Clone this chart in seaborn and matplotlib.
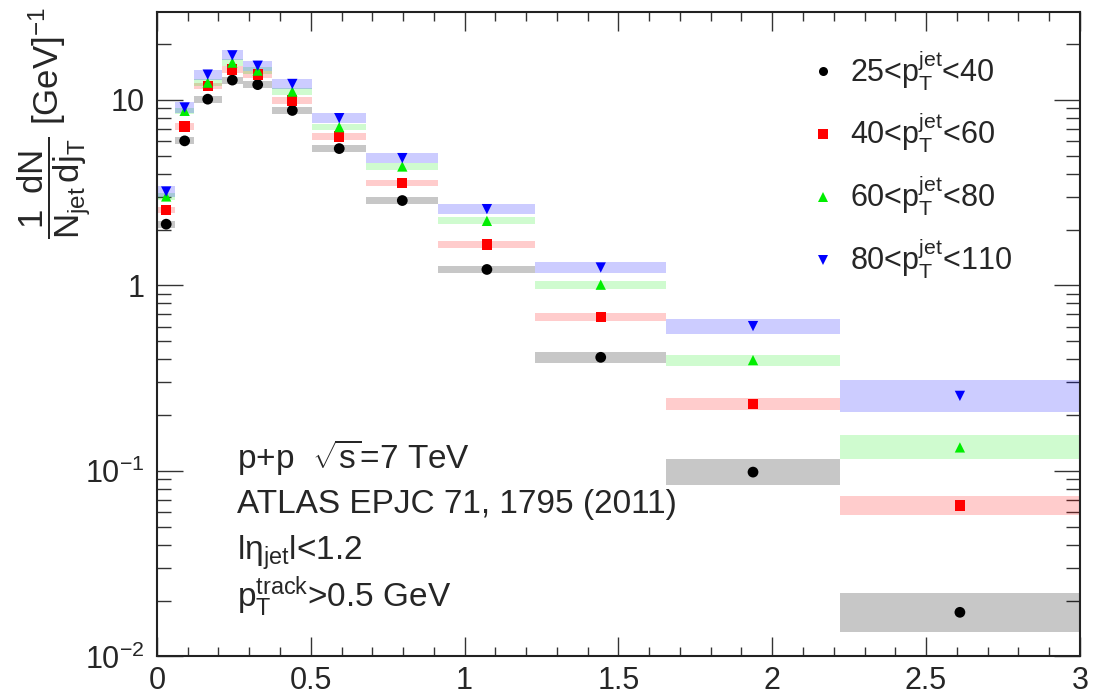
import numpy as np
import pandas as pd
import matplotlib
matplotlib.use("Agg")
import matplotlib.pyplot as plt
import seaborn as sns
from matplotlib.ticker import FixedLocator, MultipleLocator, LogLocator, NullFormatter, FixedFormatter
from matplotlib.lines import Line2D

# ---- data ----
bin_edges = [0.0, 0.06, 0.12, 0.21, 0.28, 0.375, 0.505, 0.68, 0.915, 1.23, 1.655, 2.22, 3.0]
series_labels = [r'25<p$_{\mathrm{T}}^{\mathrm{jet}}$<40', r'40<p$_{\mathrm{T}}^{\mathrm{jet}}$<60',
                 r'60<p$_{\mathrm{T}}^{\mathrm{jet}}$<80', r'80<p$_{\mathrm{T}}^{\mathrm{jet}}$<110']
vals_25_40 = [2.14, 6.02, 10.1, 12.8, 12.1, 8.78, 5.47, 2.87, 1.22, 0.410, 0.0986, 0.0173]
vals_40_60 = [2.55, 7.19, 11.9, 14.6, 13.7, 9.94, 6.35, 3.56, 1.66, 0.679, 0.230, 0.0651]
vals_60_80 = [3.02, 8.74, 12.4, 15.9, 14.4, 11.1, 7.14, 4.38, 2.23, 1.01, 0.396, 0.134]
vals_80_110 = [3.21, 9.11, 13.7, 17.4, 15.3, 12.2, 7.98, 4.86, 2.58, 1.25, 0.604, 0.254]
sys_25_40 = [0.045, 0.045, 0.045, 0.045, 0.045, 0.045, 0.045, 0.045, 0.045, 0.07, 0.175, 0.27]
sys_40_60 = [0.04, 0.04, 0.04, 0.04, 0.04, 0.04, 0.04, 0.04, 0.04, 0.05, 0.077, 0.13]
sys_60_80 = [0.04, 0.04, 0.04, 0.04, 0.04, 0.04, 0.04, 0.04, 0.045, 0.05, 0.07, 0.16]
sys_80_110 = [0.065, 0.065, 0.065, 0.065, 0.065, 0.065, 0.065, 0.065, 0.064, 0.077, 0.098, 0.22]

all_vals = [vals_25_40, vals_40_60, vals_60_80, vals_80_110]
all_sys = [sys_25_40, sys_40_60, sys_60_80, sys_80_110]
colors = ['#000000', '#ff0000', '#00ee00', '#0000ff']
band_alpha = [0.22, 0.2, 0.19, 0.2]
markers = ['o', 's', '^', 'v']
msizes = [60, 55, 55, 55]

edges = np.array(bin_edges)
centers = 0.5 * (edges[:-1] + edges[1:])

rows = []
for lab, v in zip(series_labels, all_vals):
    for c, y in zip(centers, v):
        rows.append({'jT': c, 'val': y, 'series': lab})
df = pd.DataFrame(rows)

sns.set_style("ticks")
plt.rcParams['font.family'] = ['Liberation Sans', 'DejaVu Sans']
plt.rcParams['mathtext.fontset'] = 'custom'
plt.rcParams['mathtext.rm'] = 'Liberation Sans'
plt.rcParams['mathtext.it'] = 'Liberation Sans:italic'
plt.rcParams['mathtext.bf'] = 'Liberation Sans:bold'

fig = plt.figure(figsize=(10.93, 6.98), dpi=100)
ax = fig.add_axes([0.1436, 0.0595, 0.988 - 0.1436, 0.9824 - 0.0595])

# systematic bands
for v, s, col, a in zip(all_vals, all_sys, colors, band_alpha):
    v = np.array(v); s = np.array(s)
    for i in range(len(v)):
        ax.fill_between([edges[i], edges[i + 1]], v[i] / (1 + s[i]), v[i] * (1 + s[i]),
                        color=col, alpha=a, linewidth=0)

for lab, col, mk, ms in zip(series_labels, colors, markers, msizes):
    sub = df[df['series'] == lab]
    sns.scatterplot(data=sub, x='jT', y='val', color=col, marker=mk, s=ms,
                    edgecolor='none', ax=ax, legend=False, zorder=5)

ax.set_yscale('log')
ax.set_xlim(0, 3)
ax.set_ylim(0.01, 29.7)

ax.set_xticks([0, 0.5, 1, 1.5, 2, 2.5, 3])
ax.set_xticklabels(['0', '0.5', '1', '1.5', '2', '2.5', '3'])
ax.xaxis.set_minor_locator(MultipleLocator(0.1))
ax.yaxis.set_major_locator(FixedLocator([0.01, 0.1, 1, 10]))
ax.yaxis.set_major_formatter(FixedFormatter([r'$10^{-2}$', r'$10^{-1}$', '1', '10']))
ax.yaxis.set_minor_locator(LogLocator(base=10, subs=np.arange(2, 10)))
ax.yaxis.set_minor_formatter(NullFormatter())

ax.tick_params(axis='both', which='both', direction='in', top=True, right=True, labelsize=22, color='#333333')
ax.tick_params(axis='x', which='major', length=13.5, width=1, pad=7)
ax.tick_params(axis='x', which='minor', length=6.5, width=1)
ax.tick_params(axis='y', which='major', length=19, width=1, pad=9)
ax.tick_params(axis='y', which='minor', length=10, width=1)
for sp in ax.spines.values():
    sp.set_linewidth(1.5)
    sp.set_color('#222222')
ax.set_xlabel('')
ax.set_ylabel('')

fig.text(0.050, 0.990, r'$\dfrac{\mathrm{1\;\;dN}}{\mathrm{N_{jet}\,dj_{T}}}$ [GeV]$^{\mathrm{-1}}$',
         rotation=90, fontsize=25, ha='center', va='top')

# legend
handles = [Line2D([], [], linestyle='none', marker=m, color=c, markersize=6.5, markeredgewidth=0)
           for m, c in zip(markers, colors)]
ax.legend(handles, series_labels, loc='upper left', bbox_to_anchor=(0.692, 0.963), frameon=False,
          fontsize=22, labelspacing=0.61, handlelength=1.0, handletextpad=0.38, borderaxespad=0)

# annotations
txt_x = 0.087
fs = 24
ax.text(txt_x, 0.292, r'p+p  $\sqrt{\mathrm{s}}$=7 TeV', transform=ax.transAxes, fontsize=fs, va='baseline')
ax.text(txt_x, 0.2228, 'ATLAS EPJC 71, 1795 (2011)', transform=ax.transAxes, fontsize=fs, va='baseline')
ax.text(txt_x, 0.1498, r'l$\mathrm{\eta_{jet}}$l<1.2', transform=ax.transAxes, fontsize=fs, va='baseline')
ax.text(txt_x, 0.0768, r'p$_{\mathrm{T}}^{\mathrm{track}}$>0.5 GeV', transform=ax.transAxes, fontsize=fs, va='baseline')

fig.savefig('out.png', dpi=100)
